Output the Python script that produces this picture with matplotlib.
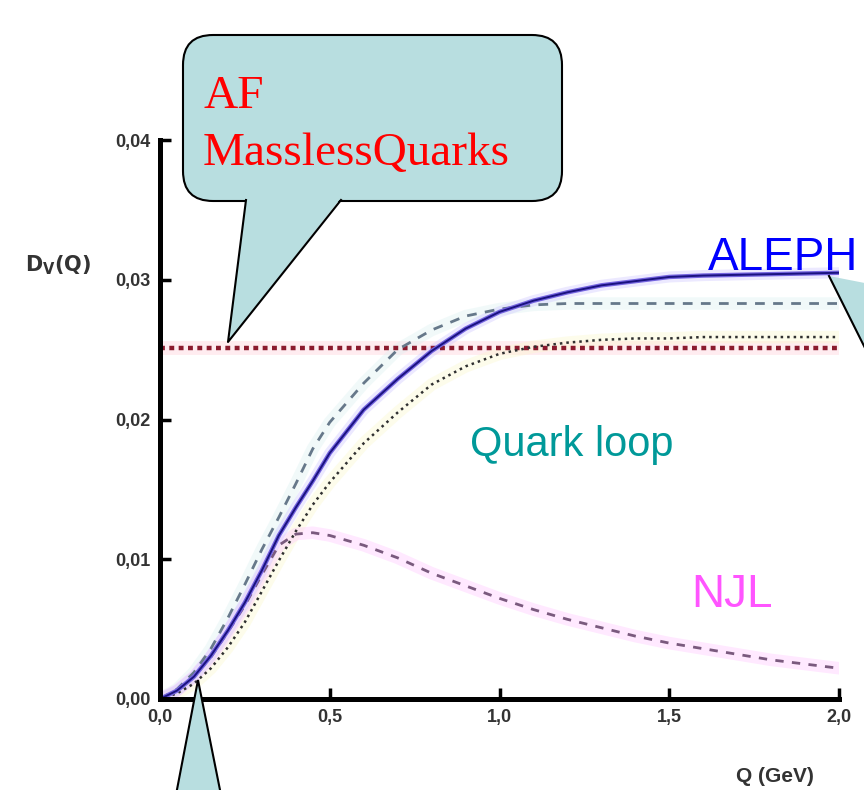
"""
Vector correlator D_V(Q): ALEPH vs quark loop, NJL and massless AF
"""

import matplotlib
matplotlib.use('Agg')
import matplotlib.pyplot as plt
from matplotlib.patches import FancyBboxPatch, Polygon
from matplotlib.lines import Line2D
from matplotlib.transforms import Affine2D

W, H = 864, 790

q = [0, 0.05, 0.1, 0.15, 0.2, 0.25, 0.3, 0.35, 0.4, 0.45, 0.5, 0.6, 0.7, 0.8,
     0.9, 1.0, 1.1, 1.2, 1.3, 1.4, 1.5, 1.6, 1.8, 2.0]
d_aleph = [0, 0.0006, 0.0016, 0.0031, 0.0049, 0.0069, 0.0092, 0.0117, 0.0137,
           0.0156, 0.0176, 0.0207, 0.0229, 0.0249, 0.0265, 0.0277, 0.0285,
           0.0291, 0.0296, 0.0299, 0.0302, 0.0303, 0.0304, 0.0305]
d_dashed = [0, 0.0007, 0.0019, 0.0036, 0.0058, 0.0082, 0.0107, 0.0130, 0.0154,
            0.0179, 0.0198, 0.0226, 0.0250, 0.0264, 0.0274, 0.0279, 0.0282,
            0.0283, 0.0283, 0.0283, 0.0283, 0.0283, 0.0283, 0.0283]
d_dotted = [0, 0.0004, 0.0011, 0.0022, 0.0037, 0.0055, 0.0077, 0.0099, 0.0120,
            0.0139, 0.0155, 0.0183, 0.0205, 0.0225, 0.0238, 0.0247, 0.0252,
            0.0255, 0.0257, 0.0258, 0.0258, 0.0259, 0.0259, 0.0259]

q_njl = [0, 0.05, 0.1, 0.15, 0.2, 0.25, 0.3, 0.35, 0.4, 0.45, 0.5, 0.6, 0.7,
         0.8, 0.9, 1.0, 1.1, 1.2, 1.3, 1.4, 1.5, 1.6, 1.7, 1.8, 1.9, 2.0]
d_njl = [0, 0.0006, 0.0016, 0.0030, 0.0048, 0.0067, 0.0089, 0.0110, 0.0118,
         0.0119, 0.0117, 0.0110, 0.0101, 0.0090, 0.0081, 0.0072, 0.0064,
         0.0057, 0.0051, 0.0045, 0.0040, 0.0036, 0.0032, 0.0028, 0.0025, 0.0022]

q_af = [0, 2.0]
d_af = [0.0251, 0.0251]

xticks = [0.0, 0.5, 1.0, 1.5, 2.0]
yticks = [0.00, 0.01, 0.02, 0.03, 0.04]

plt.rcParams['font.family'] = ['Liberation Sans', 'DejaVu Sans']

fig = plt.figure(figsize=(W / 100, H / 100), dpi=100)
px = Affine2D().scale(1 / W, -1 / H).translate(0, 1) + fig.transFigure

ax = fig.add_axes([160 / W, 1 - 699 / H, (839 - 160) / W, 559 / H])
ax.set_xlim(0, 2.0)
ax.set_ylim(0, 0.04)

# faint halos round the curves
ax.plot(q_af, d_af, color='#ffd6de', lw=10, alpha=0.45, solid_capstyle='butt')
ax.plot(q, d_dotted, color='#fbf8c8', lw=9, alpha=0.35)
ax.plot(q, d_dashed, color='#d8f0f0', lw=9, alpha=0.35)
ax.plot(q_njl, d_njl, color='#ffc8ff', lw=9, alpha=0.4)
ax.plot(q, d_aleph, color='#d0c8ff', lw=8, alpha=0.4)

ax.plot(q_af, d_af, color='#8b1a2e', lw=3.2, dashes=(1.1, 1.0))
ax.plot(q_njl, d_njl, color='#7a5a7e', lw=2, dashes=(3, 3))
ax.plot(q, d_dotted, color='#303030', lw=1.8, dashes=(1, 1.6))
ax.plot(q, d_dashed, color='#66788a', lw=2, dashes=(3.5, 3))
ax.plot(q, d_aleph, color='#7565e0', lw=3.2)
ax.plot(q, d_aleph, color='#1a1280', lw=1.4)

for s in ['top', 'right']:
    ax.spines[s].set_visible(False)
for s in ['left', 'bottom']:
    ax.spines[s].set_linewidth(3.6)
ax.set_xticks(xticks)
ax.set_yticks(yticks)
ax.set_xticklabels([f'{v:.1f}'.replace('.', ',') for v in xticks])
ax.set_yticklabels([f'{v:.2f}'.replace('.', ',') for v in yticks])
ax.tick_params(direction='in', length=8, width=2.5, labelsize=13,
               labelcolor='#333333', pad=7)
for lab in ax.get_xticklabels() + ax.get_yticklabels():
    lab.set_fontweight('bold')

fig.text(25, 271, r'$\mathbf{D_V(Q)}$', transform=px, fontsize=15,
         color='#333333', va='baseline')
fig.text(736, 782, 'Q (GeV)', transform=px, fontsize=15, fontweight='bold',
         color='#333333', va='baseline')

fig.text(708, 270, 'ALEPH', transform=px, fontsize=33, color='#0000ff',
         va='baseline')
fig.text(470, 456, 'Quark loop', transform=px, fontsize=30, color='#009999',
         va='baseline')
fig.text(691, 607, 'NJL', transform=px, fontsize=33, color='#ff55ff',
         va='baseline')

# callouts
blue = '#b8dee0'
box = FancyBboxPatch((183, 35), 379, 166,
                     boxstyle='round,pad=0,rounding_size=30',
                     transform=px, facecolor=blue, edgecolor='black', lw=1.5)
fig.add_artist(box)
fig.add_artist(Polygon([(246, 198), (341, 198), (228, 342)], closed=True,
                       transform=px, facecolor=blue, edgecolor='none'))
fig.add_artist(Line2D([246, 228, 341], [200, 342, 200], transform=px,
                      color='black', lw=1.5))
fig.text(203, 108, 'AF', transform=px, fontsize=34, color='#ff0000',
         family='Liberation Serif', va='baseline')
fig.text(203, 165, 'MasslessQuarks', transform=px, fontsize=34,
         color='#ff0000', family='Liberation Serif', va='baseline')

fig.add_artist(Polygon([(198, 680), (175, 800), (222, 800)], closed=True,
                       transform=px, facecolor=blue, edgecolor='black',
                       lw=1.5))
fig.add_artist(Polygon([(829, 276), (880, 286), (880, 378)], closed=True,
                       transform=px, facecolor=blue, edgecolor='none'))
fig.add_artist(Line2D([829, 880], [276, 378], transform=px, color='black',
                      lw=1.5))

fig.savefig('out.png', dpi=100)
